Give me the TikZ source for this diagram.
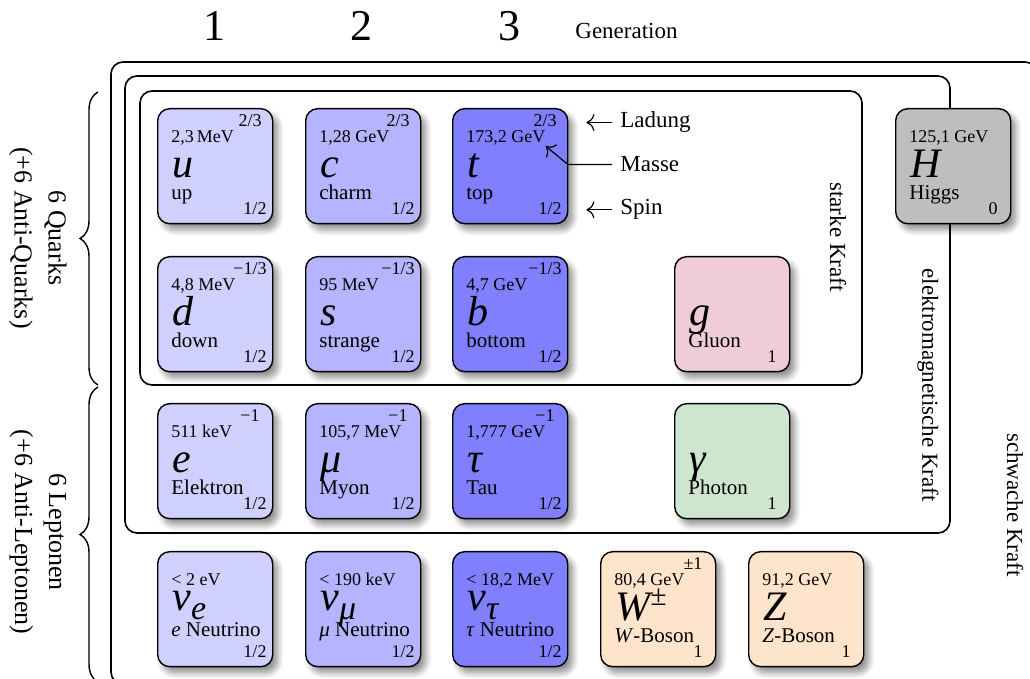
\documentclass[tikz,border=0pt]{standalone}
\usepackage{fontspec}
\setmainfont{Liberation Serif}
\usetikzlibrary{arrows.meta, positioning, calc, decorations.pathreplacing, shadows.blur}

\definecolor{genone}{RGB}{208, 208, 255}
\definecolor{gentwo}{RGB}{180, 180, 255}
\definecolor{genthree}{RGB}{128, 128, 255}
\definecolor{gluonred}{RGB}{240, 204, 216}
\definecolor{photongreen}{RGB}{206, 230, 206}
\definecolor{wzorange}{RGB}{255, 228, 204}
\definecolor{higgsgray}{RGB}{190, 190, 190}

\tikzset{
  pbox/.style={draw, anchor=north west, inner sep=0pt, minimum width=57.5pt,
    minimum height=57.5pt, rounded corners=6pt, line width=0.7pt,
    blur shadow={shadow xshift=2.5pt, shadow yshift=-3pt,
      shadow blur radius=3pt, shadow blur steps=8, shadow opacity=45}},
  pmass/.style={inner sep=0pt, anchor=base west, font=\fontsize{9}{10}\selectfont},
  pcharge/.style={inner sep=0pt, anchor=base, font=\fontsize{9}{10}\selectfont},
  psym/.style={inner sep=0pt, anchor=base west, font=\fontsize{21}{23}\selectfont\itshape},
  pname/.style={inner sep=0pt, anchor=base west, font=\fontsize{10.5}{12}\selectfont},
  pspin/.style={inner sep=0pt, anchor=base, font=\fontsize{9}{10}\selectfont},
  frame/.style={draw, line width=0.8pt, rounded corners=6pt},
  frc/.style={rotate=-90, inner sep=0pt, font=\fontsize{11.5}{13}\selectfont},
  lbl/.style={inner sep=0pt, anchor=base west, font=\fontsize{11.5}{13}\selectfont},
  gennum/.style={inner sep=0pt, anchor=base, font=\fontsize{22}{24}\selectfont},
  brc/.style={decorate, decoration={brace, amplitude=9pt}, line width=0.7pt},
  brclbl/.style={rotate=-90, align=center, inner sep=0pt,
    font=\fontsize{13}{17}\selectfont},
  ann/.style={-{To[length=4pt]}, line width=0.6pt},
}

% one particle: name, x, y, fill, mass, charge, symbol, label, spin
\newcommand{\partbox}[9]{%
  \node[pbox, fill=#4] (#1) at (#2,#3) {};
  \node[pmass]   (#1-m) at ([shift={(14,35)}]#1.north west) {#5};
  \node[pcharge] (#1-q) at ([shift={(93,19)}]#1.north west) {#6};
  \node[psym]    (#1-y) at ([shift={(15,70)}]#1.north west) {#7};
  \node[pname]   (#1-n) at ([shift={(14,92)}]#1.north west) {#8};
  \node[pspin]   (#1-s) at ([shift={(98,107)}]#1.north west) {#9};
}
% neutrino symbol with its flavour below
\newcommand{\nusym}[1]{\raisebox{5pt}{ν\lower4.5pt\hbox{\fontsize{17}{17}\selectfont #1}}}

\begin{document}
\begin{tikzpicture}[x=0.5pt, y=-0.5pt]
  \clip (0,0) rectangle (1030,679);

  % generations
  \node[gennum] (gen1) at (214,41) {1};
  \node[gennum] (gen2) at (361,41) {2};
  \node[gennum] (gen3) at (509,41) {3};
  \node[lbl] (genlbl) at (575,39) {Generation};

  % force frames
  \draw[frame] (111,62) rectangle (1037,684);
  \draw[frame] (125,76) rectangle (950,533);
  \draw[frame] (140,91) rectangle (862,385);
  \node[frc] (weak) at (1015,505) {schwache Kraft};
  \node[frc] (em) at (928,385) {elektromagnetische Kraft};
  \node[frc] (strong) at (838,237) {starke Kraft};

  % quarks and leptons
  \draw[brc] (98,385) -- (98,92);
  \draw[brc] (98,682) -- (98,387);
  \node[brclbl] (quarks) at (38,238) {6 Quarks\\(+6 Anti-Quarks)};
  \node[brclbl] (leptons) at (38,532) {6 Leptonen\\(+6 Anti-Leptonen)};

  % particles
  \partbox{u}{157}{108}{genone}{2,3\,MeV}{2/3}{u}{up}{1/2}
  \partbox{c}{305}{108}{gentwo}{1,28 GeV}{2/3}{c}{charm}{1/2}
  \partbox{t}{452}{108}{genthree}{173,2 GeV}{2/3}{t}{top}{1/2}
  \partbox{d}{157}{256}{genone}{4,8 MeV}{−1/3}{d}{down}{1/2}
  \partbox{s}{305}{256}{gentwo}{95 MeV}{−1/3}{s}{strange}{1/2}
  \partbox{b}{452}{256}{genthree}{4,7 GeV}{−1/3}{b}{bottom}{1/2}
  \partbox{e}{157}{403}{genone}{511 keV}{−1}{e}{Elektron}{1/2}
  \partbox{mu}{305}{403}{gentwo}{105,7 MeV}{−1}{μ}{Myon}{1/2}
  \partbox{tau}{452}{403}{genthree}{1,777 GeV}{−1}{τ}{Tau}{1/2}
  \partbox{nue}{157}{551}{genone}{< 2 eV}{}{\nusym{e}}%
    {\raisebox{3pt}{\textit{e} Neutrino}}{1/2}
  \partbox{numu}{305}{551}{gentwo}{< 190 keV}{}{\nusym{μ}}%
    {\raisebox{3pt}{\textit{μ} Neutrino}}{1/2}
  \partbox{nutau}{452}{551}{genthree}{< 18,2 MeV}{}{\nusym{τ}}%
    {\raisebox{3pt}{\textit{τ} Neutrino}}{1/2}
  \partbox{g}{674}{256}{gluonred}{}{}{g}{Gluon}{1}
  \partbox{gamma}{674}{403}{photongreen}{}{}{γ}{Photon}{1}
  \partbox{W}{600}{551}{wzorange}{80,4 GeV}{±1}{W\textsuperscript{±}}{\textit{W}-Boson}{1}
  \partbox{Z}{748}{551}{wzorange}{91,2 GeV}{}{Z}{\textit{Z}-Boson}{1}
  \partbox{H}{895}{108}{higgsgray}{125,1 GeV}{}{H}{Higgs}{0}

  % legend
  \node[lbl] (ladung) at (620,128) {Ladung};
  \node[lbl] (masse) at (620,172) {Masse};
  \node[lbl] (spin) at (620,215) {Spin};
  \draw[ann] ([xshift=-4pt]ladung.west) -- ($(t.east |- ladung.west)+(18,0)$);
  \draw[ann] ([xshift=-4pt]masse.west) -- ++(-44,0) -- (t-m.south east);
  \draw[ann] ([xshift=-4pt]spin.west) -- ($(t.east |- spin.west)+(18,0)$);
\end{tikzpicture}
\end{document}
